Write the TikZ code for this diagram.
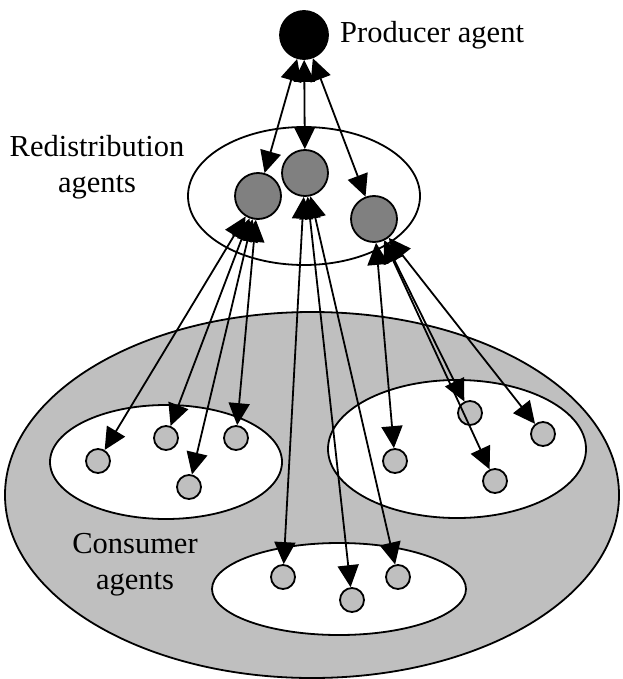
\documentclass[tikz,border=0pt]{standalone}
\usepackage{fontspec}
\setmainfont{Liberation Serif}
\usetikzlibrary{shapes.geometric,arrows.meta}
\begin{document}
\begin{tikzpicture}[x=1pt,y=-1pt,
  lw/.style={line width=1.8pt},
  region/.style={ellipse,draw,lw,inner sep=0pt},
  prod/.style={circle,draw,lw,fill=black,minimum size=48pt,inner sep=0pt},
  redis/.style={circle,draw,lw,fill=black!50,minimum size=46pt,inner sep=0pt},
  cons/.style={circle,draw,lw,fill=black!25,minimum size=24pt,inner sep=0pt},
  tipx/.tip={Triangle[length=22pt 0 0,width=21pt 0 0]},
  link/.style={lw,tipx-tipx},
  lbl/.style={font=\fontsize{30.5}{36}\selectfont,align=center,inner sep=0pt}
]
\useasboundingbox (0,0) rectangle (622,679);
% regions
\node[region,fill=black!25,minimum width=614pt,minimum height=366pt] (consumers) at (312,495) {};
\node[region,fill=white,minimum width=232pt,minimum height=114pt] (gleft) at (166,462) {};
\node[region,fill=white,minimum width=258pt,minimum height=138pt] (gright) at (457,449) {};
\node[region,fill=white,minimum width=254pt,minimum height=92pt] (gbottom) at (339,589) {};
\node[region,fill=white,minimum width=232pt,minimum height=138pt] (redisarea) at (304,196) {};
% agents
\node[prod] (P) at (304,35) {};
\node[redis] (R1) at (258,196) {};
\node[redis] (R2) at (305,173) {};
\node[redis] (R3) at (374,219) {};
\node[cons] (c1) at (98,461) {};
\node[cons] (c2) at (166,438) {};
\node[cons] (c3) at (236,438) {};
\node[cons] (c4) at (189,487) {};
\node[cons] (c5) at (395,461) {};
\node[cons] (c6) at (470,413) {};
\node[cons] (c7) at (543,434) {};
\node[cons] (c8) at (495,481) {};
\node[cons] (c9) at (283,577) {};
\node[cons] (c10) at (352,600) {};
\node[cons] (c11) at (398,577) {};
% links
\draw[link] (P) -- (R1);
\draw[link] (P) -- (R2);
\draw[link] (P) -- (R3);
\foreach \c in {c1,c2,c3,c4} \draw[link] (R1) -- (\c);
\foreach \c in {c9,c10,c11} \draw[link] (R2) -- (\c);
\foreach \c in {c5,c6,c7,c8} \draw[link] (R3) -- (\c);
% labels
\node[lbl,anchor=west] (tP) at (340,35) {Producer agent};
\node[lbl] (tR) at (97,167) {Redistribution\\agents};
\node[lbl] (tC) at (135,565) {Consumer\\agents};
\end{tikzpicture}
\end{document}
